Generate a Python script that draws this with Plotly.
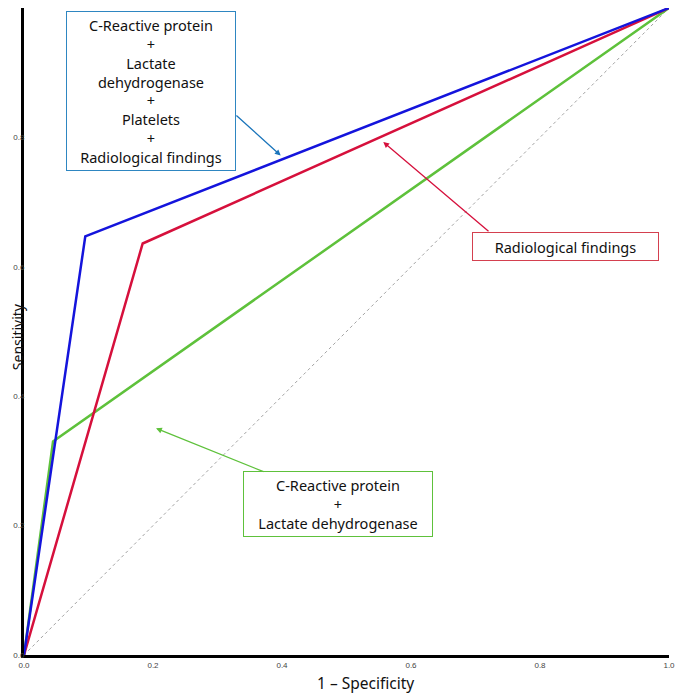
"""ROC curves for combined markers vs radiological findings"""
import plotly.graph_objects as go

# ROC points
FPR_COMBO4 = [0.0, 0.095, 1.0]
TPR_COMBO4 = [0.0, 0.647, 1.0]

FPR_RADIO = [0.0, 0.184, 1.0]
TPR_RADIO = [0.0, 0.636, 1.0]

FPR_CRP_LDH = [0.0, 0.045, 1.0]
TPR_CRP_LDH = [0.0, 0.330, 1.0]

REF_LINE = [0.0, 1.0]

TICKS = [0.0, 0.2, 0.4, 0.6, 0.8, 1.0]

LABEL_COMBO4 = 'C-Reactive protein<br>+<br>Lactate<br>dehydrogenase<br>+<br>Platelets<br>+<br>Radiological findings'
LABEL_RADIO = 'Radiological findings'
LABEL_CRP_LDH = 'C-Reactive protein<br>+<br>Lactate dehydrogenase'

FONT = 'Noto Sans'


def create_roc():
    fig = go.Figure()

    # chance diagonal
    fig.add_trace(go.Scatter(x=REF_LINE, y=REF_LINE, mode='lines',
                             line=dict(color='#8a8a8a', width=0.8, dash='dot'),
                             cliponaxis=False, showlegend=False))
    fig.add_trace(go.Scatter(x=FPR_CRP_LDH, y=TPR_CRP_LDH, mode='lines',
                             line=dict(color='#5ec13b', width=2.5),
                             cliponaxis=False, showlegend=False))
    fig.add_trace(go.Scatter(x=FPR_RADIO, y=TPR_RADIO, mode='lines',
                             line=dict(color='#d6103c', width=2.5),
                             cliponaxis=False, showlegend=False))
    fig.add_trace(go.Scatter(x=FPR_COMBO4, y=TPR_COMBO4, mode='lines',
                             line=dict(color='#1414dc', width=2.5),
                             cliponaxis=False, showlegend=False))

    boxes = [
        # text, center x, center y, width, height, border colour
        (LABEL_COMBO4, 0.197, 0.872, 162, 152, '#2e86c1'),
        (LABEL_RADIO, 0.8395, 0.632, 179, 21, '#d4404f'),
        (LABEL_CRP_LDH, 0.487, 0.233, 182, 58, '#5ec13b'),
    ]
    for text, bx, by, w, h, col in boxes:
        fig.add_annotation(x=bx, y=by, xref='x', yref='y', text=text,
                           showarrow=False, width=w, height=h,
                           xanchor='center', yanchor='middle',
                           bordercolor=col, borderwidth=1, borderpad=3,
                           bgcolor='white',
                           font=dict(family=FONT, size=14.5, color='#111'))

    arrows = [
        # tip x, tip y, tail x, tail y, colour
        (0.398, 0.772, 0.327, 0.836, '#1b75bb'),
        (0.557, 0.793, 0.7225, 0.653, '#d6103c'),
        (0.2047, 0.3503, 0.3736, 0.2824, '#5ec13b'),
    ]
    for tx, ty, sx, sy, col in arrows:
        fig.add_annotation(x=tx, y=ty, ax=sx, ay=sy, xref='x', yref='y',
                           axref='x', ayref='y', text='', showarrow=True,
                           arrowhead=2, arrowsize=0.9, arrowwidth=1.3,
                           arrowcolor=col)

    # axis titles
    fig.add_annotation(x=0.530, y=-0.043, xref='paper', yref='paper',
                       xanchor='center', yanchor='middle',
                       text='1 – Specificity', showarrow=False,
                       font=dict(family=FONT, size=15.5, color='#111'))
    fig.add_annotation(x=-0.0101, y=0.492, xref='paper', yref='paper',
                       xanchor='center', yanchor='middle',
                       text='Sensitivity', showarrow=False, textangle=-90,
                       font=dict(family=FONT, size=14, color='#111'))

    axis = dict(range=[0, 1], tickvals=TICKS, tickformat='.1f',
                showgrid=False, zeroline=False, showline=True,
                linecolor='black', linewidth=3, ticks='',
                tickfont=dict(family='Liberation Sans', size=8, color='#444'))
    fig.update_xaxes(**axis, automargin=False)
    fig.update_yaxes(**axis, automargin=False, ticklabelstandoff=-5)

    # page body adds 8px, so the figure is a bit smaller than the window
    fig.update_layout(width=677, height=685,
                      margin=dict(l=16, r=16, t=0, b=38),
                      plot_bgcolor='white', paper_bgcolor='white')
    return fig


fig = create_roc()
fig.write_html("out.html")
